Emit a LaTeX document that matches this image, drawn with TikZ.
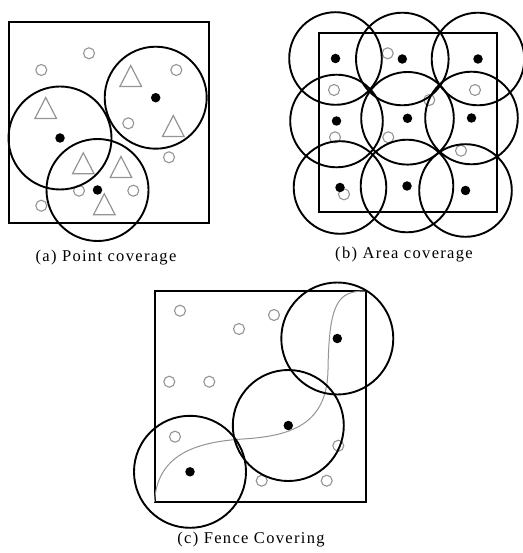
\documentclass[tikz,border=0pt]{standalone}
\usepackage{fontspec}
\setmainfont{Liberation Serif}
\definecolor{markgray}{gray}{0.58}
\begin{document}
\begin{tikzpicture}[x=1pt, y=-1pt,
    sensor/.style={fill=black, circle, inner sep=0pt, minimum size=9.5pt},
    target/.style={draw=markgray, line width=1.1pt, circle, inner sep=0pt, minimum size=11pt},
    zone/.style={draw=black, line width=1.9pt},
    field/.style={draw=black, line width=2pt},
    tri/.style={draw=markgray, line width=1.2pt, line join=miter},
    fence/.style={draw=markgray, line width=1pt},
    caption/.style={font=\fontsize{16.5}{19}\selectfont\addfontfeatures{LetterSpace=8}}]
  \useasboundingbox (0,0) rectangle (522,553);
  % (a) point coverage
  \draw[field] (8.5,22.5) rectangle (209,222.5);
  \draw
    (89,53.3) node[target] (a5){}
    (41.3,70) node[target] (a6){}
    (176.3,70) node[target] (a7){}
    (128.3,123.3) node[target] (a8){}
    (169,157.3) node[target] (a9){}
    (79,190.7) node[target] (a10){}
    (133.3,190.7) node[target] (a11){}
    (41.3,205.7) node[target] (a12){};
  \foreach \x/\y in {130.7/76, 45.7/108, 173.3/126, 83.3/163.3, 121/167, 104.3/204.3}
    \draw[tri] (\x,\y) ++(-10.8,10.5) -- ++(10.8,-21) -- ++(10.8,21) -- cycle;
  \draw
    (155.7,97.7) node[sensor] (a1){}
    (60,138) node[sensor] (a2){}
    (97.5,190) node[sensor] (a3){};
  \begin{scope}[zone]
    \draw (a1) circle[radius=51];
    \draw (a2) circle[radius=51.5];
    \draw (a3) circle[radius=51];
  \end{scope}
  \node[caption] (capa) at (106,257.5) {(a) Point coverage};
  % (b) area coverage
  \draw[field] (318.5,33.5) rectangle (496.5,211.5);
  \draw
    (387.7,53.3) node[target] (b10){}
    (334,90) node[target] (b11){}
    (475,90) node[target] (b12){}
    (429.3,100) node[target] (b13){}
    (335,137.3) node[target] (b14){}
    (388.3,137.3) node[target] (b15){}
    (461,150.7) node[target] (b16){}
    (344,194.3) node[target] (b17){};
  \draw
    (335.5,58.5) node[sensor] (b1){}
    (402.3,59) node[sensor] (b2){}
    (478,59) node[sensor] (b3){}
    (336.5,121) node[sensor] (b4){}
    (407.5,118.3) node[sensor] (b5){}
    (471.5,118) node[sensor] (b6){}
    (340,187.5) node[sensor] (b7){}
    (407,186) node[sensor] (b8){}
    (465.5,190.5) node[sensor] (b9){};
  \begin{scope}[zone]
    \foreach \s in {b1,b2,b3,b4,b5,b6,b7,b8,b9}
      \draw (\s) circle[radius=46.3];
  \end{scope}
  \node[caption] (capb) at (404,255) {(b) Area coverage};
  % (c) fence covering
  \draw[field] (154.5,291) rectangle (365.5,502);
  \coordinate (cs) at (154.5,502);
  \coordinate (cm) at (243,439);
  \coordinate (cn) at (328,370);
  \coordinate (ce) at (365.5,291);
  \draw[fence] (cs) .. controls (157,455) and (195,442) .. (cm)
    .. controls (292,436) and (327,424) .. (cn)
    .. controls (329,302) and (338,291) .. (ce);
  \draw
    (180,310.7) node[target] (c4){}
    (274,315) node[target] (c5){}
    (239,329) node[target] (c6){}
    (169.3,381.7) node[target] (c7){}
    (209.3,381.7) node[target] (c8){}
    (175,436.7) node[target] (c9){}
    (338.3,445.7) node[target] (c10){}
    (261.7,480.7) node[target] (c11){}
    (326.7,480.7) node[target] (c12){};
  \draw
    (337.3,338.5) node[sensor] (c1){}
    (288.3,425.5) node[sensor] (c2){}
    (190,471.8) node[sensor] (c3){};
  \begin{scope}[zone]
    \draw (c1) circle[radius=56];
    \draw (c2) circle[radius=55.5];
    \draw (c3) circle[radius=56];
  \end{scope}
  \node[caption] (capc) at (251,540) {(c) Fence Covering};
\end{tikzpicture}
\end{document}
